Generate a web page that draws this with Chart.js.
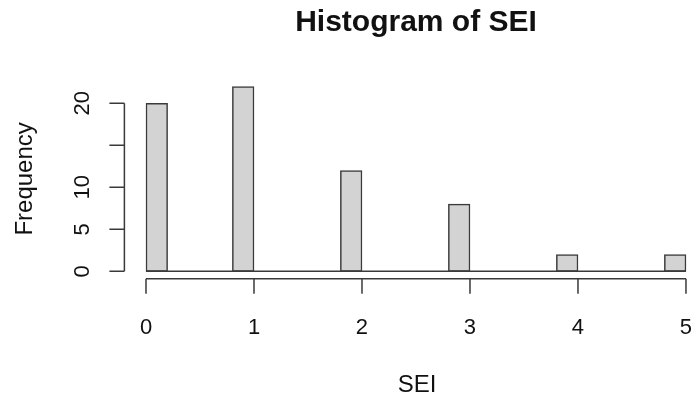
<!DOCTYPE html>
<html>
<head>
<meta charset="utf-8">
<script src="https://cdn.jsdelivr.net/npm/chart.js@4"></script>
<style>
html,body{margin:0;padding:0;background:#fff;overflow:hidden;}
#wrap{width:693px;height:402px;}
</style>
</head>
<body>
<div id="wrap"><canvas id="c" width="693" height="402"></canvas></div>
<script>
// Histogram bin edges (width 0.2) and counts
const breaks = [0,0.2,0.4,0.6,0.8,1.0,1.2,1.4,1.6,1.8,2.0,2.2,2.4,2.6,2.8,3.0,3.2,3.4,3.6,3.8,4.0,4.2,4.4,4.6,4.8,5.0];
const counts = [20,0,0,0,22, 0,0,0,0,12, 0,0,0,0,8, 0,0,0,0,2, 0,0,0,0,2];
const xTicks = [0,1,2,3,4,5];
const yTicks = [0,5,10,15,20];
const yTickLabels = ["0","5","10","","20"]; // R drops the overlapping "15"
const titleText = "Histogram of SEI";
const xLabel = "SEI";
const yLabel = "Frequency";

const mids = counts.map((c,i)=>({x:(breaks[i]+breaks[i+1])/2, y:c}));
const nonZero = mids.filter(p=>p.y>0);
const baseline = [{x:breaks[0],y:0},{x:breaks[breaks.length-1],y:0}];

const FONT = "'Liberation Sans', Arial, sans-serif";
const INK = '#3a3a3a';

const rAxes = {
  id:'rAxes',
  afterDraw(chart){
    const ctx = chart.ctx, xs = chart.scales.x, ys = chart.scales.y, ca = chart.chartArea;
    ctx.save();
    ctx.strokeStyle = INK; ctx.lineWidth = 1.5; ctx.fillStyle = '#111';
    // y axis
    const yx = ca.left;
    ctx.beginPath();
    ctx.moveTo(yx, ys.getPixelForValue(yTicks[0]));
    ctx.lineTo(yx, ys.getPixelForValue(yTicks[yTicks.length-1]));
    yTicks.forEach(t=>{const p=ys.getPixelForValue(t); ctx.moveTo(yx,p); ctx.lineTo(yx-15,p);});
    ctx.stroke();
    ctx.font = "22px "+FONT;
    ctx.textAlign='center'; ctx.textBaseline='alphabetic';
    yTicks.forEach((t,i)=>{
      const p=ys.getPixelForValue(t);
      ctx.save(); ctx.translate(89,p); ctx.rotate(-Math.PI/2); ctx.fillText(yTickLabels[i],0,0); ctx.restore();
    });
    // x axis
    const xy = ca.bottom;
    ctx.beginPath();
    ctx.moveTo(xs.getPixelForValue(xTicks[0]), xy);
    ctx.lineTo(xs.getPixelForValue(xTicks[xTicks.length-1]), xy);
    xTicks.forEach(t=>{const p=xs.getPixelForValue(t); ctx.moveTo(p,xy); ctx.lineTo(p,xy+15);});
    ctx.stroke();
    xTicks.forEach(t=>{ctx.fillText(String(t), xs.getPixelForValue(t), 334);});
    // axis titles
    ctx.font = "24px "+FONT;
    ctx.fillText(xLabel, 417, 392);
    ctx.save(); ctx.translate(32,(ca.top+ca.bottom)/2); ctx.rotate(-Math.PI/2); ctx.fillText(yLabel,0,0); ctx.restore();
    // main title
    ctx.font = "bold 30px "+FONT;
    ctx.fillText(titleText, 416, 31);
    ctx.restore();
  }
};

new Chart(document.getElementById('c'), {
  type:'bar',
  data:{
    datasets:[
      {type:'line', data:baseline, borderColor:INK, borderWidth:1.5, pointRadius:0, order:0},
      {type:'bar', data:nonZero, backgroundColor:'#d3d3d3', borderColor:INK, borderWidth:1.5,
       borderSkipped:false, barPercentage:1, categoryPercentage:1, barThickness:21.6, order:1}
    ]
  },
  options:{
    responsive:false, animation:false,
    layout:{padding:{left:124.4, right:0, top:79.1, bottom:123.3}},
    plugins:{legend:{display:false}, tooltip:{enabled:false}, title:{display:false}},
    scales:{
      x:{type:'linear', min:-0.2, max:5.065, display:false, offset:false},
      y:{type:'linear', min:-0.88, max:22.88, display:false}
    }
  },
  plugins:[rAxes]
});
</script>
</body>
</html>
